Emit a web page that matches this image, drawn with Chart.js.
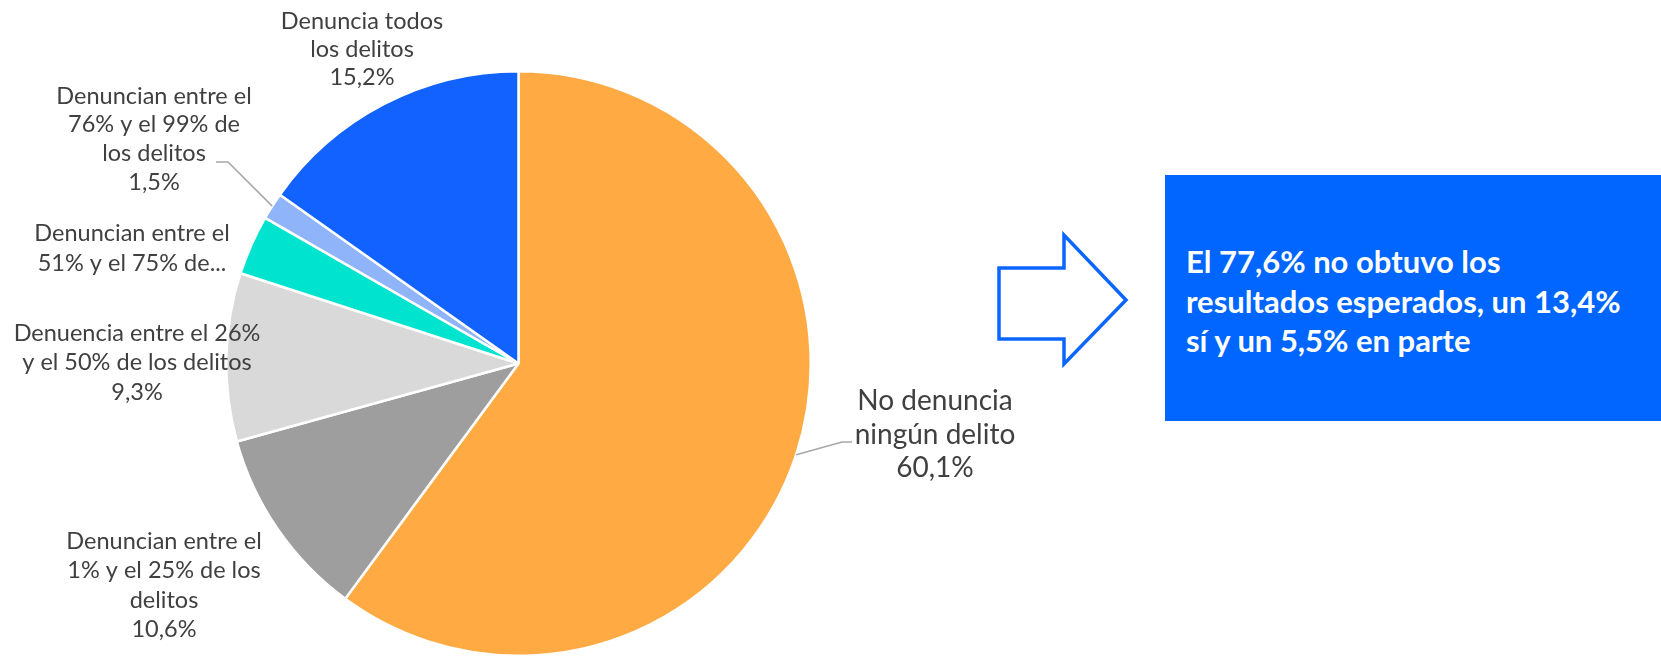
<!DOCTYPE html>
<html>
<head>
<meta charset="utf-8">
<script src="https://cdn.jsdelivr.net/npm/chart.js@4"></script>
<style>
  html, body { margin: 0; padding: 0; background: #fff; overflow: hidden; }
  #wrap { position: absolute; left: 0; top: 0; width: 1661px; height: 657px; }
  #box {
    position: absolute; left: 1165px; top: 175px; width: 496px; height: 246px;
    background: #0066ff; color: #fff; box-sizing: border-box;
    padding: 67px 0 0 21px;
    font: bold 31px Lato, sans-serif; line-height: 39.7px;
  }
  #arrow { position: absolute; left: 0; top: 0; }
</style>
</head>
<body>
<div id="wrap"><canvas id="pie"></canvas></div>
<svg id="arrow" width="1661" height="657">
  <polygon points="999,268 1064,268 1064,235 1126,300 1064,364 1064,339 999,339"
           fill="#fff" stroke="#0a66ff" stroke-width="3.5" stroke-linejoin="miter"/>
</svg>
<div id="box">El 77,6% no obtuvo los<br>resultados esperados, un 13,4%<br>sí y un 5,5% en parte</div>
<script>
// categories, clockwise from 12 o'clock
const categories = [
  'No denuncia ningún delito',
  'Denuncian entre el 1% y el 25% de los delitos',
  'Denuencia entre el 26% y el 50% de los delitos',
  'Denuncian entre el 51% y el 75% de los delitos',
  'Denuncian entre el 76% y el 99% de los delitos',
  'Denuncia todos los delitos'
];
const values = [60.1, 10.6, 9.3, 3.3, 1.5, 15.2];
const colors = ['#ffaa43', '#9e9e9e', '#d9d9d9', '#00e3cf', '#8fb4fa', '#1262ff'];

// label text lines (as printed on the chart)
const labelLines = [
  ['No denuncia', 'ningún delito', '60,1%'],
  ['Denuncian entre el', '1% y el 25% de los', 'delitos', '10,6%'],
  ['Denuencia entre el 26%', 'y el 50% de los delitos', '9,3%'],
  ['Denuncian entre el', '51% y el 75% de...'],
  ['Denuncian entre el', '76% y el 99% de', 'los delitos', '1,5%'],
  ['Denuncia todos', 'los delitos', '15,2%']
];

// label placement: centre x, first line y, font size, line step, leader elbow (or null)
const labelPos = [
  { x: 935, y: 401, size: 28, step: 33.5, elbow: [842, 442], end: 852 },
  { x: 164, y: 541, size: 23.5, step: 29.5, elbow: null },
  { x: 137, y: 333, size: 23.5, step: 29.5, elbow: null },
  { x: 132, y: 233, size: 23.5, step: 30, elbow: null },
  { x: 154, y: 96, size: 23.5, step: 28.7, elbow: [228, 162], end: 216 },
  { x: 362, y: 21, size: 23.5, step: 28.3, elbow: null }
];

const pieLabels = {
  id: 'pieLabels',
  afterDraw(chart) {
    const ctx = chart.ctx;
    const arcs = chart.getDatasetMeta(0).data;
    ctx.save();
    arcs.forEach((arc, i) => {
      const p = labelPos[i];
      if (p.elbow) {
        const { x, y, startAngle, endAngle, outerRadius } =
          arc.getProps(['x', 'y', 'startAngle', 'endAngle', 'outerRadius'], true);
        const mid = (startAngle + endAngle) / 2;
        ctx.beginPath();
        ctx.moveTo(x + Math.cos(mid) * outerRadius, y + Math.sin(mid) * outerRadius);
        ctx.lineTo(p.elbow[0], p.elbow[1]);
        ctx.lineTo(p.end, p.elbow[1]);
        ctx.strokeStyle = '#a6a6a6';
        ctx.lineWidth = 1.5;
        ctx.stroke();
      }
      ctx.fillStyle = '#404040';
      ctx.font = p.size + 'px Lato, sans-serif';
      ctx.textAlign = 'center';
      ctx.textBaseline = 'middle';
      labelLines[i].forEach((line, k) => {
        ctx.fillText(line, p.x, p.y + k * p.step);
      });
    });
    ctx.restore();
  }
};

new Chart(document.getElementById('pie'), {
  type: 'pie',
  data: {
    labels: categories,
    datasets: [{
      data: values,
      backgroundColor: colors,
      borderColor: '#ffffff',
      borderWidth: 2.5
    }]
  },
  options: {
    responsive: true,
    maintainAspectRatio: false,
    animation: false,
    layout: { padding: { left: 224, right: 848, top: 70, bottom: -3 } },
    plugins: {
      legend: { display: false },
      tooltip: { enabled: false }
    }
  },
  plugins: [pieLabels]
});
</script>
</body>
</html>
